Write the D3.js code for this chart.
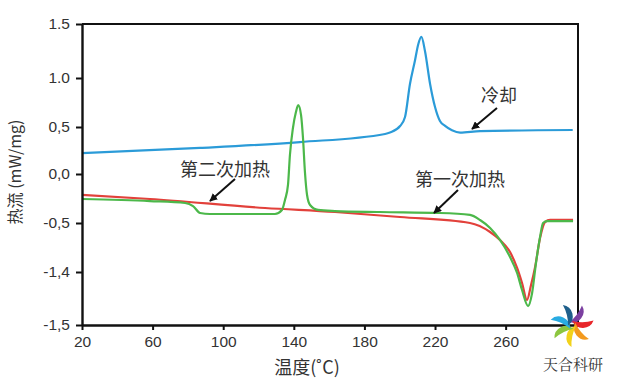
<!DOCTYPE html>
<html>
<head>
<meta charset="utf-8">
<script src="https://cdn.jsdelivr.net/npm/d3@7"></script>
<style>
body { margin: 0; background: #fff; }
</style>
</head>
<body>
<div id="chart"></div>
<script>
// y ticks as printed on the original (its labels are not evenly spaced)
var yTicks = [-1.5, -1.0, -0.5, 0.0, 0.5, 1.0, 1.5];
var yTickLabels = ['-1,5', '-1,4', '-0,5', '0,0', '0,5', '1.0', '1.5'];
var xTicks = [20, 60, 100, 140, 180, 220, 260];

// cooling (blue)
var coolT = [20, 86.9, 143.5, 191.7, 194.5, 200.2, 203, 205.8, 208.7, 210.4, 212.3, 214.3, 217.2, 220, 222.8, 225.7, 229.6, 234.2, 245.5, 298];
var coolV = [0.223, 0.277, 0.34, 0.426, 0.441, 0.51, 0.602, 0.939, 1.167, 1.306, 1.38, 1.25, 0.939, 0.704, 0.561, 0.511, 0.465, 0.44, 0.457, 0.468];

// first heating (red)
var heat1T = [20, 58.5, 123.7, 163.3, 200.2, 239.8, 251.2, 256.8, 262.5, 266.5, 269.3, 272.1, 274.4, 276.7, 279.5, 282.3, 285.2, 298.2];
var heat1V = [-0.214, -0.255, -0.347, -0.388, -0.439, -0.5, -0.592, -0.673, -0.796, -0.959, -1.104, -1.264, -1.123, -0.949, -0.653, -0.49, -0.469, -0.469];

// second heating (green)
var heat2T = [20, 58.5, 78.4, 82.9, 86.9, 92.5, 129.3, 133.3, 135, 136.7, 137.8, 139.5, 141.2, 142.5, 144.1, 145.2, 146.3, 147.5, 149.2, 153.7, 163.3, 188.8, 222.8, 239.8, 245.5, 251.2, 256.8, 262.5, 266.5, 269.3, 272.7, 275, 277.2, 279.5, 281.2, 283.5, 298.2];
var heat2V = [-0.255, -0.276, -0.296, -0.327, -0.398, -0.408, -0.408, -0.367, -0.265, -0.112, 0.202, 0.489, 0.653, 0.724, 0.622, 0.383, 0.021, -0.214, -0.316, -0.367, -0.378, -0.388, -0.398, -0.418, -0.469, -0.551, -0.673, -0.847, -1.009, -1.17, -1.321, -1.198, -0.908, -0.643, -0.5, -0.48, -0.48];

var width = 618, height = 383;

var svg = d3.select('#chart').append('svg')
	.attr('width', width)
	.attr('height', height)
	.style('font-family', '"Liberation Sans", Arial, sans-serif');

var x = d3.scaleLinear().domain([20, 301]).range([82, 578]);
var y = d3.scaleLinear().domain(yTicks).range([325, 272, 223, 174, 127, 78, 24]);

function series(T, V) {
	return T.map(function(t, i) { return [t, V[i]]; });
}

var line = d3.line()
	.x(function(d) { return x(d[0]); })
	.y(function(d) { return y(d[1]); })
	.curve(d3.curveMonotoneX);

var lines = [
	{data: series(coolT, coolV), color: '#2b9bd8'},
	{data: series(heat1T, heat1V), color: '#e2413b'},
	{data: series(heat2T, heat2V), color: '#4cb84a'}
];

lines.forEach(function(s) {
	svg.append('path')
		.attr('d', line(s.data))
		.attr('fill', 'none')
		.attr('stroke', s.color)
		.attr('stroke-width', 2.2)
		.attr('stroke-linejoin', 'round');
});

// frame (top and right sides)
svg.append('path')
	.attr('d', 'M82,24H578V325')
	.attr('fill', 'none')
	.attr('stroke', '#111')
	.attr('stroke-width', 2);

var xAxis = svg.append('g')
	.attr('transform', 'translate(0,325)')
	.call(d3.axisBottom(x).tickValues(xTicks).tickSize(5).tickSizeOuter(0));

var yAxis = svg.append('g')
	.attr('transform', 'translate(82,0)')
	.call(d3.axisLeft(y).tickValues(yTicks).tickSize(6).tickSizeOuter(0)
		.tickFormat(function(d, i) { return yTickLabels[i]; }));

[xAxis, yAxis].forEach(function(a) {
	a.select('.domain').attr('stroke', '#111').attr('stroke-width', 2.4);
	a.selectAll('.tick line').attr('stroke', '#111').attr('stroke-width', 2);
	a.selectAll('.tick text')
		.attr('fill', '#333')
		.style('font-size', '15.5px')
		.style('font-family', '"Liberation Sans", Arial, sans-serif');
});
xAxis.selectAll('.tick text').attr('dy', '0.9em');
yAxis.selectAll('.tick text').attr('x', -12);

// axis titles
svg.append('text')
	.attr('x', 307)
	.attr('y', 374)
	.attr('text-anchor', 'middle')
	.attr('fill', '#333')
	.style('font-size', '18px')
	.style('font-family', '"Noto Sans CJK SC", sans-serif')
	.text('温度(˚C)');

svg.append('text')
	.attr('transform', 'translate(21,172) rotate(-90)')
	.attr('text-anchor', 'middle')
	.attr('fill', '#333')
	.style('font-size', '16px')
	.style('font-family', '"Noto Sans CJK SC", sans-serif')
	.text('热流 (mW/mg)');

// annotations
svg.append('defs').append('marker')
	.attr('id', 'arrow')
	.attr('viewBox', '0 0 10 10')
	.attr('refX', 9)
	.attr('refY', 5)
	.attr('markerWidth', 4)
	.attr('markerHeight', 4)
	.attr('orient', 'auto')
	.append('path')
	.attr('d', 'M0,0L10,5L0,10Z')
	.attr('fill', '#111');

var notes = [
	{text: '冷却', tx: 499, ty: 102, x1: 497, y1: 108, x2: 472, y2: 129},
	{text: '第二次加热', tx: 225, ty: 176, x1: 235, y1: 179, x2: 210, y2: 201},
	{text: '第一次加热', tx: 460, ty: 186, x1: 458, y1: 190, x2: 434, y2: 213}
];

notes.forEach(function(n) {
	svg.append('text')
		.attr('x', n.tx)
		.attr('y', n.ty)
		.attr('text-anchor', 'middle')
		.attr('fill', '#333')
		.style('font-size', '18px')
		.style('font-family', '"Noto Sans CJK SC", sans-serif')
		.text(n.text);
	svg.append('line')
		.attr('x1', n.x1).attr('y1', n.y1)
		.attr('x2', n.x2).attr('y2', n.y2)
		.attr('stroke', '#111')
		.attr('stroke-width', 2)
		.attr('marker-end', 'url(#arrow)');
});

// watermark logo: pinwheel of crescents
var logoColors = ['#7b3fa0', '#e8262a', '#f39a1e', '#f2d21b', '#8cc63f', '#29abe2', '#1f5f8b'];
var logo = svg.append('g').attr('transform', 'translate(572,325)');
logoColors.forEach(function(c, i) {
	var a = -2.4 + i * 2 * Math.PI / 7;
	var p1 = [4 * Math.cos(a), 4 * Math.sin(a)];
	var p2 = [22 * Math.cos(a + 1.3), 22 * Math.sin(a + 1.3)];
	logo.append('path')
		.attr('d', 'M' + p1 + 'A11.5,11.5 0 0 0 ' + p2 + 'A40,40 0 0 1 ' + p1 + 'Z')
		.attr('fill', c);
});

svg.append('text')
	.attr('x', 573)
	.attr('y', 370)
	.attr('text-anchor', 'middle')
	.attr('fill', '#333')
	.style('font-size', '15px')
	.style('font-family', '"Noto Serif CJK SC", "Noto Sans CJK SC", serif')
	.text('天合科研');
</script>
</body>
</html>
